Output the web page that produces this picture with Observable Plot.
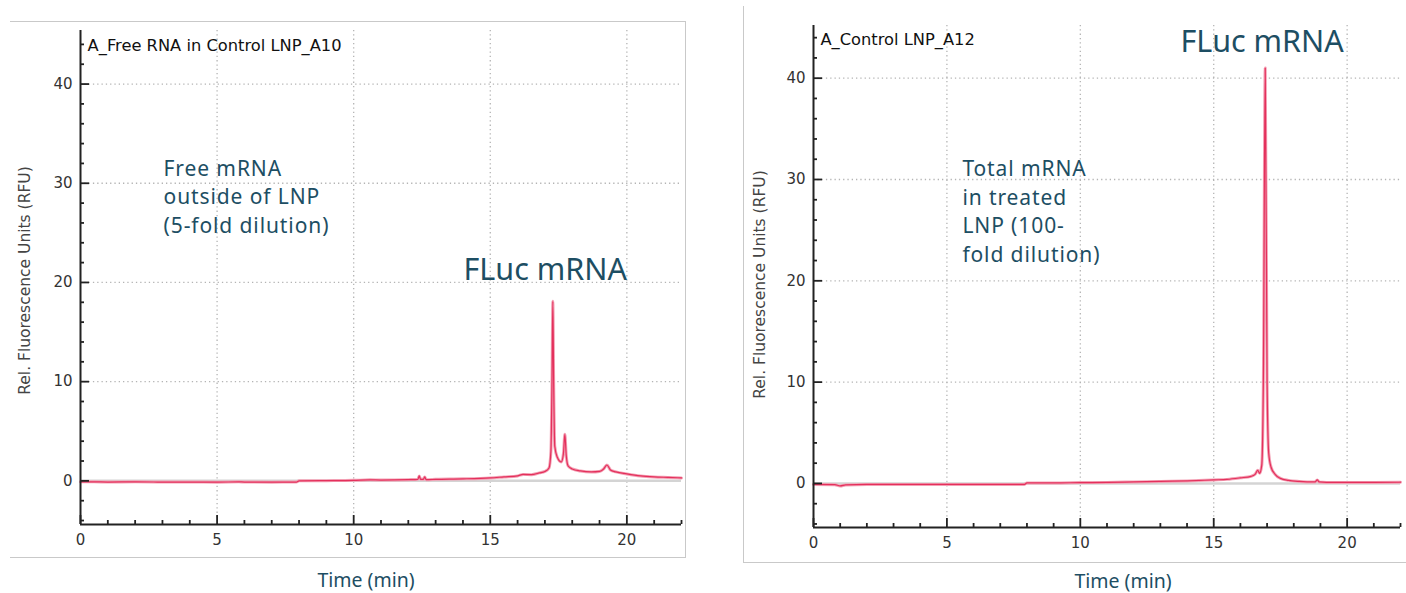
<!DOCTYPE html>
<html><head><meta charset="utf-8">
<script src="https://cdn.jsdelivr.net/npm/d3@7"></script>
<script src="https://cdn.jsdelivr.net/npm/@observablehq/plot@0.6"></script>
<style>
body{margin:0;background:#fff;}
#wrap{position:relative;width:1406px;height:593px;overflow:hidden;background:#fff;}
.panel{position:absolute;top:0;}
.frame{position:absolute;pointer-events:none;border-color:#c9c9c9;border-style:solid;border-width:0;}
</style></head><body>
<div id="wrap"></div>
<script>
// ---- data ----
const leftTitle = "A_Free RNA in Control LNP_A10";
const rightTitle = "A_Control LNP_A12";
const leftNote = ["Free mRNA", "outside of LNP", "(5-fold dilution)"];
const rightNote = ["Total mRNA", "in treated", "LNP (100-", "fold dilution)"];
const peakLabel = "FLuc mRNA";
const xAxisLabel = "Time (min)";
const yAxisLabel = "Rel. Fluorescence Units (RFU)";

const leftTime = [0,0.5,1,2,3,4,5,5.8,6,7,7.9,8.0,9,10,10.6,11,12,12.35,12.4,12.45,12.55,12.6,12.65,13,14,15,15.5,16,16.2,16.5,16.8,17.0,17.15,17.22,17.26,17.29,17.32,17.36,17.45,17.6,17.68,17.73,17.78,17.85,18.0,18.3,18.7,19.0,19.15,19.27,19.4,19.6,20.0,20.5,21,21.5,22];
const leftRFU  = [-0.1,-0.1,-0.12,-0.1,-0.12,-0.12,-0.13,-0.1,-0.12,-0.13,-0.12,0.0,0.02,0.05,0.1,0.08,0.12,0.15,0.5,0.15,0.15,0.4,0.12,0.15,0.2,0.3,0.4,0.5,0.65,0.62,0.8,0.95,1.3,3.0,10,18.1,10,3.5,2.4,1.9,2.8,4.7,2.6,1.5,1.2,1.0,0.9,0.95,1.2,1.6,1.1,0.9,0.7,0.5,0.4,0.35,0.3];

const rightTime = [0,0.8,1.0,1.2,2,3,4,5,6,7,7.9,8.0,9,10,11,12,13,14,15,15.5,16,16.4,16.55,16.65,16.72,16.8,16.86,16.93,17.0,17.06,17.15,17.3,17.5,17.8,18.2,18.8,18.88,18.95,19.5,20,21,22];
const rightRFU  = [-0.1,-0.12,-0.25,-0.15,-0.1,-0.1,-0.1,-0.1,-0.1,-0.1,-0.1,0.05,0.05,0.08,0.1,0.15,0.2,0.25,0.35,0.4,0.55,0.7,0.9,1.3,1.0,1.8,10,41.0,10,3,1.6,0.9,0.5,0.3,0.2,0.15,0.35,0.15,0.1,0.1,0.1,0.12];

const xTickLabels = [0,5,10,15,20];
const xMinorTicks = [1,2,3,4,6,7,8,9,11,12,13,14,16,17,18,19,21,22];
const yTickLabels = [0,10,20,30,40];
const yMinorTicks = [-4,-2,2,4,6,8,12,14,16,18,22,24,26,28,32,34,36,38,42,44];
const xGridTicks = [5,10,15,20];
const yGridTicks = [10,20,30,40];

// ---- drawing ----
const TEAL = "#1d4e63";
const AXIS = "#222";
function panel(cfg) {
  const rows = cfg.time.map((t, i) => ({t, v: cfg.rfu[i]}));
  const [yMin, yMax] = cfg.yDomain;
  const pxPerX = (cfg.width - cfg.ml - cfg.mr) / 22;           // pixels per minute
  const pxPerY = (593 - cfg.mt - cfg.mb) / (yMax - yMin);      // pixels per RFU
  const tickX = (px) => ({x1: 0, x2: px / pxPerX, stroke: AXIS, strokeWidth: 1.8});
  const tickY = (px) => ({y1: yMin, y2: yMin + px / pxPerY, stroke: AXIS, strokeWidth: 1.8});
  const svg = Plot.plot({
    width: cfg.width, height: 593,
    marginLeft: cfg.ml, marginRight: cfg.mr, marginTop: cfg.mt, marginBottom: cfg.mb,
    x: {domain: [0, 22]},
    y: {domain: cfg.yDomain},
    style: {background: "transparent", fontFamily: "'DejaVu Sans', sans-serif", fontSize: "15px", color: "#222"},
    marks: [
      Plot.gridX(xGridTicks, {stroke: "#b4b4b4", strokeOpacity: 1, strokeWidth: 1.3, strokeDasharray: "1.3 3"}),
      Plot.gridY(yGridTicks, {stroke: "#b4b4b4", strokeOpacity: 1, strokeWidth: 1.3, strokeDasharray: "1.3 3"}),
      Plot.ruleY([0], {stroke: "#d4d4d4", strokeWidth: 2.5}),
      Plot.line(rows, {x: "t", y: "v", stroke: "#f3a0b4", strokeWidth: 3, curve: "monotone-x"}),
      Plot.line(rows, {x: "t", y: "v", stroke: "#e4305c", strokeWidth: 1.2, curve: "monotone-x"}),
      Plot.ruleX(xMinorTicks, tickY(4)),
      Plot.ruleX(xTickLabels, tickY(9)),
      Plot.ruleY(yMinorTicks, tickX(4)),
      Plot.ruleY(yTickLabels, tickX(9)),
      Plot.ruleX([0], {stroke: AXIS, strokeWidth: 2}),
      Plot.ruleY([yMin], {stroke: AXIS, strokeWidth: 2}),
      Plot.axisX(xTickLabels, {tickSize: 0, tickPadding: 10, fill: "#333", fontSize: 15, label: null}),
      Plot.axisY(yTickLabels, {tickSize: 0, tickPadding: 8, fill: "#333", fontSize: 15, label: null}),
      Plot.text([cfg.title], {x: 0.26, y: cfg.titleY, textAnchor: "start", fontSize: 16.3, fill: "#111"}),
      Plot.text([cfg.note.join("\n")], {x: cfg.noteX, y: cfg.noteY, textAnchor: "start", lineAnchor: "middle", lineHeight: 1.37, fontSize: 21, fill: TEAL, fontFamily: "'Noto Sans', sans-serif"}),
      Plot.text([peakLabel], {x: cfg.peakX, y: cfg.peakY, textAnchor: "start", lineAnchor: "middle", fontSize: 30.5, fill: TEAL, fontFamily: "'Noto Sans', sans-serif"}),
      Plot.text([xAxisLabel], {frameAnchor: "bottom", textAnchor: "middle", lineAnchor: "middle", dx: cfg.xlabDx, dy: cfg.xlabDy, fontSize: 19.5, fill: TEAL, fontFamily: "'Noto Sans', sans-serif"}),
      Plot.text([yAxisLabel], {frameAnchor: "left", textAnchor: "middle", rotate: -90, lineAnchor: "middle", dx: cfg.ylabDx, dy: cfg.ylabDy, fontSize: 15.5, fill: "#444"})
    ]
  });
  // a little letter spacing on the annotation block to match the original's wider face
  d3.select(svg).selectAll("text").filter(function() { return this.textContent.startsWith(cfg.note[0]); })
    .style("letter-spacing", "0.9px");
  return svg;
}

const wrap = document.getElementById("wrap");
function place(el, left) {
  const d = document.createElement("div");
  d.className = "panel";
  d.style.left = left + "px";
  d.appendChild(el);
  wrap.appendChild(d);
}
place(panel({
  time: leftTime, rfu: leftRFU, width: 700, ml: 80, mr: 19, mt: 30, mb: 69,
  yDomain: [-4.4, 45.4], title: leftTitle, titleY: 43.9,
  note: leftNote, noteX: 3.04, noteY: 28.8, peakX: 14.02, peakY: 21.25,
  xlabDx: -15, xlabDy: 56, ylabDx: -55, ylabDy: 3
}), 0);
place(panel({
  time: rightTime, rfu: rightRFU, width: 666, ml: 73, mr: 6, mt: 25, mb: 66,
  yDomain: [-4.35, 45.2], title: rightTitle, titleY: 43.75,
  note: rightNote, noteX: 5.58, noteY: 27.0, peakX: 13.75, peakY: 43.5,
  xlabDx: 16, xlabDy: 54, ylabDx: -53, ylabDy: 8
}), 740);

function frame(css) {
  const d = document.createElement("div");
  d.className = "frame";
  Object.assign(d.style, css);
  wrap.appendChild(d);
}
frame({left: "10px", top: "21px", width: "675px", height: "535px", borderTopWidth: "1.5px", borderRightWidth: "1.5px", borderBottomWidth: "1.5px"});
frame({left: "743px", top: "6px", width: "700px", height: "556px", borderLeftWidth: "1.5px", borderBottomWidth: "1.5px"});
</script>
</body></html>
